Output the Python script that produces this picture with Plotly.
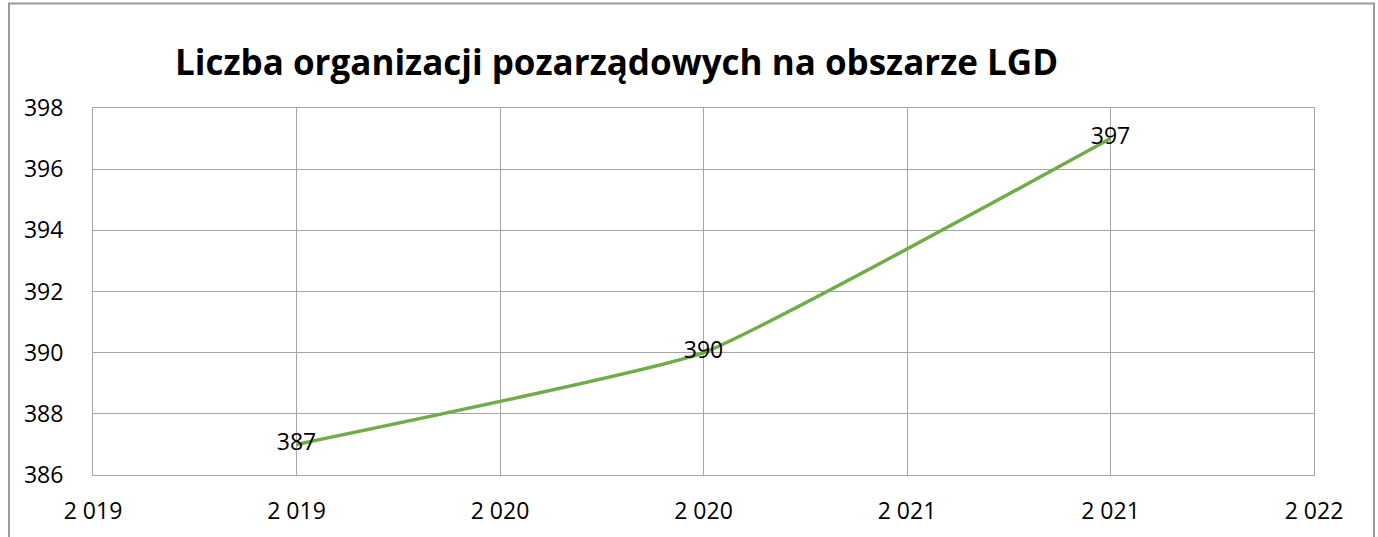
import plotly.graph_objects as go

title = "Liczba organizacji pozarządowych na obszarze LGD"
years = [2019, 2020, 2021]
values = [387, 390, 397]
x_tick_vals = [2018.5, 2019, 2019.5, 2020, 2020.5, 2021, 2021.5]
x_tick_text = ["2 019", "2 019", "2 020", "2 020", "2 021", "2 021", "2 022"]
y_ticks = [386, 388, 390, 392, 394, 396, 398]

W, H = 1378, 537
L, R, T, B = 93, 1314, 108, 475

def px(x):
    return (x - L) / (R - L)

def py(y):
    return (B - y) / (B - T)

fig = go.Figure()
fig.add_trace(go.Scatter(
    x=years, y=values, mode="lines+text",
    line=dict(color="#70ad47", width=3.5, shape="spline", smoothing=0.35),
    text=[str(v) for v in values], textposition="middle center",
    textfont=dict(family="Open Sans", size=23, color="#000000"),
    cliponaxis=False, showlegend=False, hoverinfo="x+y",
))

grid = "#a6a6a6"
fig.update_xaxes(
    range=[2018.5, 2021.5], tickvals=x_tick_vals, ticktext=x_tick_text,
    showgrid=True, gridcolor=grid, gridwidth=1,
    showline=True, linecolor=grid, linewidth=1, mirror=True,
    ticks="", ticklabelstandoff=15, zeroline=False, automargin=False,
    tickfont=dict(family="Open Sans", size=23, color="#000000"),
)
fig.update_yaxes(
    range=[386, 398], tickvals=y_ticks,
    showgrid=True, gridcolor=grid, gridwidth=1,
    showline=True, linecolor=grid, linewidth=1, mirror=True,
    ticks="", ticklabelstandoff=24, zeroline=False, automargin=False,
    tickfont=dict(family="Open Sans", size=23, color="#000000"),
)

fig.add_shape(type="rect", xref="paper", yref="paper",
              x0=px(9), x1=px(1374), y0=py(560), y1=py(3.5),
              line=dict(color="#9a9a9a", width=2), fillcolor="rgba(0,0,0,0)", layer="below")

fig.add_annotation(text="<b>" + title + "</b>", xref="paper", yref="paper",
                   x=px(616), y=py(62), xanchor="center", yanchor="middle",
                   showarrow=False,
                   font=dict(family="Open Sans", size=35, color="#000000"))

fig.update_layout(
    width=W, height=H,
    margin=dict(l=L, r=W - R, t=T, b=H - B),
    plot_bgcolor="white", paper_bgcolor="white",
)

fig.write_html("out.html", config={"displayModeBar": False},
               post_script="document.body.style.margin='0';")
